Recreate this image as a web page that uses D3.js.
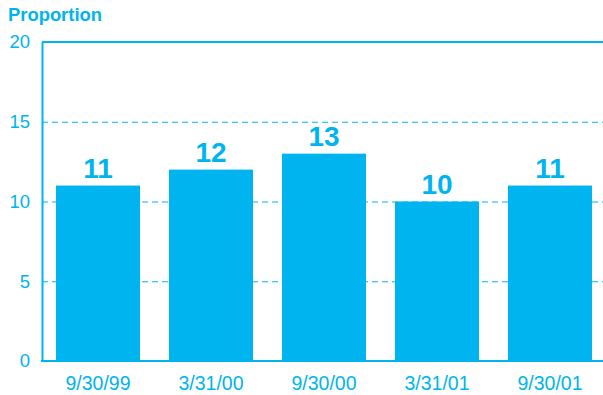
<!DOCTYPE html>
<html><head><meta charset="utf-8">
<script src="https://cdn.jsdelivr.net/npm/d3@7/dist/d3.min.js"></script>
<style>body{margin:0;background:#fff}svg{display:block;font-family:"Liberation Sans",Arial,sans-serif}</style>
</head><body><svg id="c" width="603" height="395"></svg>
<script>
const categories = ["9/30/99","3/31/00","9/30/00","3/31/01","9/30/01"];
const values = [11,12,13,10,11];
const yTicks = [0,5,10,15,20];
const yTitle = "Proportion";

const blue = "#00B4EF";
const svg = d3.select("#c");
const x = d3.scaleBand().domain(categories).range([41.5,606.5]).paddingInner(29/113).paddingOuter(14.5/113);
const y = d3.scaleLinear().domain([0,20]).range([361,42]);

// gridlines
svg.append("g").selectAll("line").data(yTicks.filter(d=>d>0&&d<20)).join("line")
  .attr("x1",42).attr("x2",603).attr("y1",d=>y(d)+0.5).attr("y2",d=>y(d)+0.5)
  .attr("stroke",blue).attr("stroke-width",1).attr("stroke-dasharray","6,4");
// top border
svg.append("line").attr("x1",42).attr("x2",603).attr("y1",y(20)).attr("y2",y(20)).attr("stroke",blue).attr("stroke-width",2);

// bars
svg.append("g").selectAll("rect").data(values).join("rect")
  .attr("x",(d,i)=>x(categories[i])).attr("width",x.bandwidth())
  .attr("y",d=>y(d)).attr("height",d=>y(0)-y(d)).attr("fill",blue);

// value labels
svg.append("g").selectAll("text").data(values).join("text")
  .attr("x",(d,i)=>x(categories[i])+x.bandwidth()/2).attr("y",d=>y(d)-8)
  .attr("text-anchor","middle").attr("font-weight","bold").attr("font-size",28)
  .attr("fill",blue).text(d=>d);

// axes
const yAxis = d3.axisLeft(y).tickValues(yTicks).tickSize(0).tickPadding(12);
const gy = svg.append("g").attr("transform","translate(42,0)").call(yAxis);
gy.select(".domain").attr("stroke",blue).attr("stroke-width",2);
gy.selectAll("text").attr("fill",blue).attr("font-size",18.5).attr("font-family","Liberation Sans, Arial, sans-serif");

const xAxis = d3.axisBottom(x).tickSize(0).tickPadding(15);
const gx = svg.append("g").attr("transform","translate(0,361)").call(xAxis);
gx.select(".domain").remove();
gx.selectAll("text").attr("fill",blue).attr("font-size",19.5).attr("font-family","Liberation Sans, Arial, sans-serif");
svg.append("line").attr("x1",41).attr("x2",603).attr("y1",361).attr("y2",361).attr("stroke",blue).attr("stroke-width",2);

svg.append("text").attr("x",8).attr("y",21).attr("font-weight","bold").attr("font-size",18.4)
  .attr("fill",blue).text(yTitle);
</script></body></html>
